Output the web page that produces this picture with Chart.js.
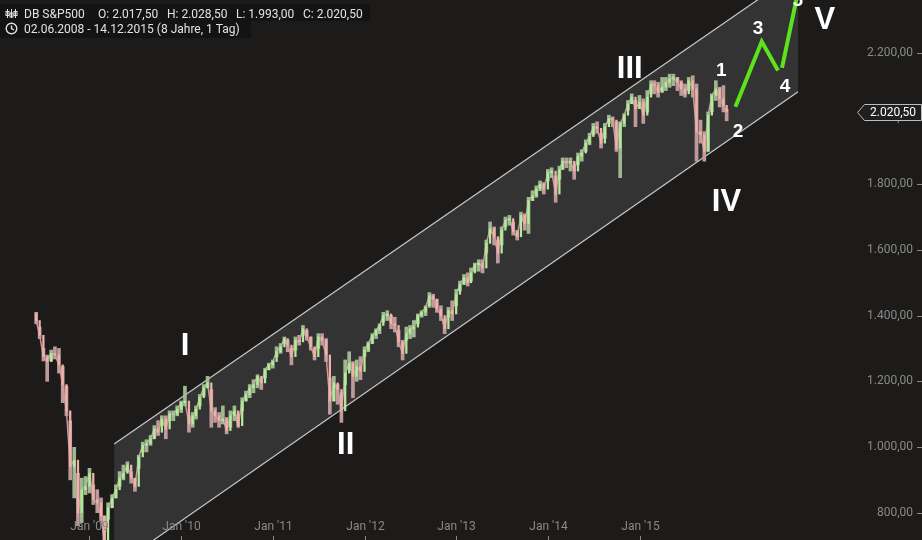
<!DOCTYPE html>
<html>
<head>
<meta charset="utf-8">
<script src="https://cdn.jsdelivr.net/npm/chart.js@4.4.0/dist/chart.umd.min.js"></script>
<style>
  html, body { margin: 0; padding: 0; background: #1c1b1a; }
  #wrap { width: 922px; height: 540px; }
</style>
</head>
<body>
<div id="wrap"><canvas id="myChart" width="922" height="540"></canvas></div>
<script>
// half-monthly bars (low / high / close)
const dates = [
  '2008-06-02','2008-06-16','2008-07-01','2008-07-16','2008-08-01','2008-08-16','2008-09-01','2008-09-16','2008-10-01','2008-10-16','2008-11-01','2008-11-16','2008-12-01','2008-12-16',
  '2009-01-01','2009-01-16','2009-02-01','2009-02-16','2009-03-01','2009-03-16','2009-04-01','2009-04-16','2009-05-01','2009-05-16','2009-06-01','2009-06-16','2009-07-01','2009-07-16','2009-08-01','2009-08-16','2009-09-01','2009-09-16','2009-10-01','2009-10-16','2009-11-01','2009-11-16','2009-12-01','2009-12-16',
  '2010-01-01','2010-01-16','2010-02-01','2010-02-16','2010-03-01','2010-03-16','2010-04-01','2010-04-16','2010-05-01','2010-05-16','2010-06-01','2010-06-16','2010-07-01','2010-07-16','2010-08-01','2010-08-16','2010-09-01','2010-09-16','2010-10-01','2010-10-16','2010-11-01','2010-11-16','2010-12-01','2010-12-16',
  '2011-01-01','2011-01-16','2011-02-01','2011-02-16','2011-03-01','2011-03-16','2011-04-01','2011-04-16','2011-05-01','2011-05-16','2011-06-01','2011-06-16','2011-07-01','2011-07-16','2011-08-01','2011-08-16','2011-09-01','2011-09-16','2011-10-01','2011-10-16','2011-11-01','2011-11-16','2011-12-01','2011-12-16',
  '2012-01-01','2012-01-16','2012-02-01','2012-02-16','2012-03-01','2012-03-16','2012-04-01','2012-04-16','2012-05-01','2012-05-16','2012-06-01','2012-06-16','2012-07-01','2012-07-16','2012-08-01','2012-08-16','2012-09-01','2012-09-16','2012-10-01','2012-10-16','2012-11-01','2012-11-16','2012-12-01','2012-12-16',
  '2013-01-01','2013-01-16','2013-02-01','2013-02-16','2013-03-01','2013-03-16','2013-04-01','2013-04-16','2013-05-01','2013-05-16','2013-06-01','2013-06-16','2013-07-01','2013-07-16','2013-08-01','2013-08-16','2013-09-01','2013-09-16','2013-10-01','2013-10-16','2013-11-01','2013-11-16','2013-12-01','2013-12-16',
  '2014-01-01','2014-01-16','2014-02-01','2014-02-16','2014-03-01','2014-03-16','2014-04-01','2014-04-16','2014-05-01','2014-05-16','2014-06-01','2014-06-16','2014-07-01','2014-07-16','2014-08-01','2014-08-16','2014-09-01','2014-09-16','2014-10-01','2014-10-16','2014-11-01','2014-11-16','2014-12-01','2014-12-16',
  '2015-01-01','2015-01-16','2015-02-01','2015-02-16','2015-03-01','2015-03-16','2015-04-01','2015-04-16','2015-05-01','2015-05-16','2015-06-01','2015-06-16','2015-07-01','2015-07-16','2015-08-01','2015-08-16','2015-09-01','2015-09-16','2015-10-01','2015-10-16','2015-11-01','2015-11-16','2015-12-01','2015-12-14'
];
const lows = [
  1375,1330,1262,1200,1262,1268,1225,1135,1095,900,845,760,770,855,
  860,825,800,775,680,780,815,845,880,900,925,890,865,935,985,985,1005,1025,1035,1065,1025,1080,1080,1095,
  1105,1125,1045,1060,1085,1125,1155,1180,1060,1075,1060,1070,1040,1060,1080,1060,1110,1140,1150,1165,1180,1175,1210,1235,
  1240,1275,1285,1315,1290,1250,1295,1310,1340,1325,1295,1265,1300,1310,1260,1100,1140,1130,1075,1190,1235,1150,1200,1205,
  1275,1290,1315,1330,1345,1380,1385,1360,1350,1305,1265,1325,1330,1335,1375,1395,1400,1430,1425,1410,1385,1345,1395,1385,
  1430,1475,1495,1490,1505,1535,1535,1530,1590,1650,1615,1560,1615,1670,1675,1645,1630,1685,1660,1650,1750,1760,1780,1770,
  1810,1820,1745,1815,1845,1850,1840,1815,1860,1870,1900,1920,1950,1955,1910,1940,1985,1975,1900,1820,1975,2025,2045,1975,
  2030,1985,2020,2075,2075,2065,2080,2085,2095,2100,2085,2070,2065,2085,2065,1870,1925,1870,1900,2020,2055,2035,2020,1993
];
const highs = [
  1410,1365,1300,1280,1295,1305,1300,1245,1185,1080,999,920,905,910,
  935,885,870,845,790,830,855,885,925,945,955,925,905,975,1015,1022,1035,1065,1080,1095,1095,1110,1110,1125,
  1140,1185,1095,1105,1125,1160,1190,1215,1175,1120,1105,1125,1090,1110,1125,1100,1150,1170,1190,1205,1220,1205,1240,1255,
  1265,1305,1315,1335,1325,1300,1335,1340,1370,1355,1335,1300,1345,1345,1330,1210,1215,1190,1165,1265,1290,1260,1265,1275,
  1305,1320,1345,1360,1375,1410,1415,1400,1395,1355,1325,1365,1370,1385,1405,1415,1430,1470,1465,1450,1430,1390,1425,1445,
  1480,1505,1525,1530,1545,1560,1570,1570,1630,1685,1670,1630,1670,1700,1705,1685,1660,1715,1710,1760,1780,1795,1810,1805,
  1845,1850,1825,1855,1880,1880,1880,1855,1895,1905,1935,1955,1985,1990,1955,1985,2010,2005,1990,1990,2015,2055,2075,2055,
  2070,2060,2085,2115,2115,2110,2125,2125,2135,2135,2125,2115,2105,2125,2130,2105,1995,1960,2020,2075,2115,2095,2100,2028.5
];
const closes = [
  1385,1340,1275,1260,1285,1280,1250,1190,1110,940,960,800,870,880,
  920,840,830,790,710,815,845,870,905,920,945,905,880,970,1005,1010,1025,1055,1045,1085,1055,1100,1100,1115,
  1135,1140,1070,1095,1115,1150,1180,1195,1110,1095,1080,1085,1050,1095,1110,1065,1140,1160,1180,1190,1215,1195,1235,1250,
  1260,1290,1305,1330,1310,1275,1325,1320,1360,1335,1305,1275,1335,1325,1280,1140,1195,1175,1110,1225,1255,1215,1245,1230,
  1295,1315,1340,1355,1370,1400,1405,1375,1370,1320,1285,1345,1360,1365,1400,1410,1425,1460,1450,1420,1400,1360,1415,1405,
  1465,1495,1515,1500,1530,1555,1560,1545,1620,1665,1640,1590,1660,1690,1695,1655,1640,1705,1680,1750,1765,1785,1800,1785,
  1835,1840,1770,1845,1870,1865,1870,1840,1885,1895,1925,1945,1975,1970,1925,1975,2000,1995,1910,1985,2010,2045,2065,2030,
  2050,2010,2065,2105,2100,2080,2095,2110,2120,2125,2110,2090,2075,2115,2090,1960,1950,1900,2010,2070,2090,2060,2040,2020.5
];
const firstOpen = 1405;

// last day shown in the header
const lastOHLC = [2017.5, 2028.5, 1993, 2020.5];

// trend channel
const channelDates = ['2009-04-09', '2016-09-24'];
const channelUpper = [1009, 2446];
const channelLower = [633, 2081.5];

// projected waves (green)
const waveDates = ['2016-01-18', '2016-05-02', '2016-07-06'];
const waveValues = [2036, 2234, 2146];
const wave5Dates = ['2016-07-22', '2016-09-20'];
const wave5Values = [2154, 2372];

// wave labels
const bigLabels = ['I', 'II', 'III', 'IV', 'V'];
const bigLabelDates = ['2010-01-16', '2011-10-18', '2014-11-23', '2015-12-13', '2017-01-09'];
const bigLabelValues = [1315, 1012, 2158, 1752, 2307];
const smallLabels = ['1', '2', '3', '4', '5'];
const smallLabelDates = ['2015-11-23', '2016-01-28', '2016-04-17', '2016-08-03', '2016-09-23'];
const smallLabelValues = [2151, 1965, 2277, 2102, 2364];

function toYear(s) {
  const p = s.split('-').map(Number);
  const start = Date.UTC(p[0], 0, 1), end = Date.UTC(p[0] + 1, 0, 1);
  return p[0] + (Date.UTC(p[0], p[1] - 1, p[2]) - start) / (end - start);
}
function fmtDe(v) {
  let parts = Number(v).toFixed(2).split('.');
  return parts[0].replace(/\B(?=(\d{3})+(?!\d))/g, '.') + ',' + parts[1];
}

const xs = dates.map(toYear);
const opens = closes.map((c, i) => i === 0 ? firstOpen : closes[i - 1]);
const up = closes.map((c, i) => c >= opens[i]);

const decor = {
  id: 'decor',
  beforeDraw(chart) {
    const c = chart.ctx;
    c.save();
    c.fillStyle = '#1c1b1a';
    c.fillRect(0, 0, chart.width, chart.height);
    c.restore();
  },
  afterDatasetsDraw(chart) {
    const c = chart.ctx;
    const sx = chart.scales.x, sy = chart.scales.y;
    c.save();

    // x labels + tick marks
    c.font = '12px Roboto';
    c.fillStyle = '#8a8a8a';
    c.strokeStyle = '#8a8a8a';
    c.lineWidth = 1;
    c.textAlign = 'center';
    c.textBaseline = 'middle';
    sx.ticks.forEach(t => {
      if (t.value < xs[0] || t.value > xs[xs.length - 1] || Math.abs(t.value - Math.round(t.value)) > 1e-6) return;
      const px = Math.round(sx.getPixelForValue(t.value)) + 0.5;
      c.fillText("Jan '" + String(t.value).slice(2), px, 527);
      c.beginPath(); c.moveTo(px, 536); c.lineTo(px, 540); c.stroke();
    });
    // y tick marks at the right edge
    sy.ticks.forEach(t => {
      const py = Math.round(sy.getPixelForValue(t.value)) + 0.5;
      c.beginPath(); c.moveTo(917, py); c.lineTo(922, py); c.stroke();
    });

    // wave labels
    c.fillStyle = '#ffffff';
    c.textAlign = 'center';
    c.textBaseline = 'alphabetic';
    c.font = 'bold 31px "Liberation Sans"';
    bigLabels.forEach((l, i) => {
      c.fillText(l, sx.getPixelForValue(toYear(bigLabelDates[i])), sy.getPixelForValue(bigLabelValues[i]) + 11);
    });
    c.font = 'bold 19px "Liberation Sans"';
    smallLabels.forEach((l, i) => {
      c.fillText(l, sx.getPixelForValue(toYear(smallLabelDates[i])), sy.getPixelForValue(smallLabelValues[i]) + 7);
    });

    // last price tag
    const ty = Math.round(sy.getPixelForValue(closes[closes.length - 1])) + 0.5;
    c.beginPath();
    c.moveTo(857.5, ty);
    c.lineTo(864.5, ty - 8);
    c.lineTo(921.5, ty - 8);
    c.lineTo(921.5, ty + 8);
    c.lineTo(864.5, ty + 8);
    c.closePath();
    c.fillStyle = '#1f1f1f';
    c.fill();
    c.strokeStyle = '#bdbdbd';
    c.stroke();
    c.fillStyle = '#ffffff';
    c.font = '12px Roboto';
    c.textBaseline = 'middle';
    c.fillText(fmtDe(closes[closes.length - 1]), 893, ty + 0.5);

    // header boxes
    c.fillStyle = '#131313';
    c.fillRect(0, 4, 370, 17);
    c.fillRect(0, 21, 251, 17);
    c.fillStyle = '#e2e2e2';
    c.textAlign = 'left';
    c.textBaseline = 'alphabetic';
    c.font = '12px Roboto';
    c.fillText('DB S&P500', 24, 17.5);
    c.fillText('O: ' + fmtDe(lastOHLC[0]), 98, 17.5);
    c.fillText('H: ' + fmtDe(lastOHLC[1]), 167, 17.5);
    c.fillText('L: ' + fmtDe(lastOHLC[2]), 236, 17.5);
    c.fillText('C: ' + fmtDe(lastOHLC[3]), 303, 17.5);
    c.fillText(dates[0].split('-').reverse().join('.') + ' - 14.12.2015 (8 Jahre, 1 Tag)', 24, 33);

    // candle icon
    c.strokeStyle = '#e2e2e2';
    c.lineWidth = 1;
    [7.5, 11.5, 15.5].forEach((x, i) => {
      c.beginPath(); c.moveTo(x, 9); c.lineTo(x, 18); c.stroke();
      c.strokeRect(x - 1.5, 11.5 + (i % 2) * 1.5, 3, 4);
    });
    // clock icon
    c.lineWidth = 1.4;
    c.beginPath(); c.arc(11.5, 28.5, 5.3, 0, Math.PI * 2); c.stroke();
    c.beginPath(); c.moveTo(11.5, 25.5); c.lineTo(11.5, 28.5); c.lineTo(14, 30); c.stroke();

    c.restore();
  }
};

var ctx = document.getElementById('myChart');
var myChart = new Chart(ctx, {
  type: 'bar',
  data: {
    datasets: [
      {
        type: 'line',
        data: channelDates.map((d, i) => ({ x: toYear(d), y: channelUpper[i] })),
        borderColor: '#c9c9c9',
        borderWidth: 1.2,
        pointRadius: 0,
        fill: false,
        order: 6,
      },
      {
        type: 'line',
        data: channelDates.map((d, i) => ({ x: toYear(d), y: channelLower[i] })),
        borderColor: '#c9c9c9',
        borderWidth: 1.2,
        pointRadius: 0,
        fill: '-1',
        backgroundColor: '#333333',
        order: 6,
      },
      {
        type: 'line',
        data: xs.map((x, i) => ({ x: x, y: closes[i] })),
        borderColor: 'rgba(215,165,165,0.9)',
        borderWidth: 1.5,
        pointRadius: 0,
        fill: false,
        order: 4,
      },
      {
        data: xs.map((x, i) => ({ x: x, y: [lows[i], highs[i]] })),
        backgroundColor: up.map(u => u ? 'rgba(165,192,150,0.95)' : 'rgba(200,160,160,0.95)'),
        barThickness: 3,
        grouped: false,
        order: 3,
      },
      {
        data: xs.map((x, i) => ({ x: x, y: [opens[i], closes[i]] })),
        backgroundColor: up.map(u => u ? '#b2ec98' : '#f2b0ab'),
        barThickness: 1.6,
        grouped: false,
        order: 2,
      },
      {
        type: 'line',
        data: waveDates.map((d, i) => ({ x: toYear(d), y: waveValues[i] })),
        borderColor: '#5be31d',
        borderWidth: 4,
        borderJoinStyle: 'miter',
        pointRadius: 0,
        fill: false,
        order: 1,
      },
      {
        type: 'line',
        data: wave5Dates.map((d, i) => ({ x: toYear(d), y: wave5Values[i] })),
        borderColor: '#5be31d',
        borderWidth: 4,
        pointRadius: 0,
        fill: false,
        order: 1,
      },
    ],
  },
  options: {
    responsive: false,
    animation: false,
    layout: { padding: { right: 9 } },
    plugins: {
      legend: { display: false },
      tooltip: { enabled: false },
    },
    scales: {
      x: {
        type: 'linear',
        display: false,
        offset: false,
        min: 2008.0237,
        max: 2017.3834,
        grid: { offset: false },
        ticks: { stepSize: 1, includeBounds: false },
      },
      y: {
        type: 'linear',
        position: 'right',
        min: 716.9,
        max: 2360.7,
        grid: { display: false, drawTicks: false },
        border: { display: false },
        ticks: {
          stepSize: 200,
          includeBounds: false,
          color: '#8a8a8a',
          font: { family: 'Roboto', size: 12 },
          crossAlign: 'far',
          padding: 0,
          callback: v => fmtDe(v),
        },
        afterFit(s) {
          s.width = 55;
          s.paddingTop = 0;
          s.paddingBottom = 0;
        },
      },
    },
  },
  plugins: [decor],
});
</script>
</body>
</html>
